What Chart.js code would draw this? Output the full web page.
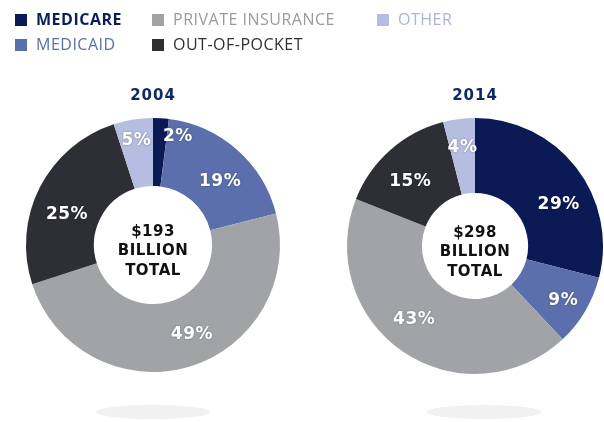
<!DOCTYPE html>
<html>
<head>
<meta charset="utf-8">
<script src="https://cdn.jsdelivr.net/npm/chart.js@4/dist/chart.umd.min.js"></script>
<style>
  html, body { margin: 0; padding: 0; background: #ffffff; }
  #wrap { position: relative; width: 604px; height: 422px; overflow: hidden; }
  canvas { position: absolute; left: 0; top: 0; }
  .shadow { position: absolute; height: 14px; border-radius: 50%; background: #f1f1f1; }
  #legend { position: absolute; left: 15px; top: 10px; font-family: "Open Sans", sans-serif; font-size: 16px; }
  .li { position: absolute; white-space: nowrap; line-height: 18px; letter-spacing: 0.5px; }
  .sw { display: inline-block; width: 12px; height: 12px; vertical-align: -1px; margin-right: 9px; }
</style>
</head>
<body>
<div id="wrap">
  <div class="shadow" style="left:96px; top:405px; width:114px;"></div>
  <div class="shadow" style="left:427px; top:405px; width:114px;"></div>
  <canvas id="c1" width="604" height="422"></canvas>
  <canvas id="c2" width="604" height="422"></canvas>
  <div id="legend"></div>
</div>
<script>
// ---- data ----
const categories = ["MEDICARE", "MEDICAID", "PRIVATE INSURANCE", "OUT-OF-POCKET", "OTHER"];
const years = ["2004", "2014"];
const values2004 = [2, 19, 49, 25, 5];
const values2014 = [29, 9, 43, 15, 4];
const totals = ["$193", "$298"];
const centerWords = ["BILLION", "TOTAL"];

// ---- styles ----
const sliceColors = ["#0b1a55", "#5a6fab", "#a2a3a6", "#2e2f34", "#b5bde0"];
const legendTextColors = ["#0b1e5b", "#5a70a8", "#9a9a9c", "#2e2f34", "#aab4dc"];
const legendBold = [true, false, false, false, false];
const legendPos = [[0, 0], [0, 25], [137, 0], [137, 25], [362, 0]];

// HTML legend
const lg = document.getElementById('legend');
categories.forEach((c, i) => {
  const d = document.createElement('div');
  d.className = 'li';
  d.style.left = legendPos[i][0] + 'px';
  d.style.top = legendPos[i][1] + 'px';
  d.style.color = legendTextColors[i];
  d.style.fontWeight = legendBold[i] ? '700' : '400';
  d.innerHTML = '<span class="sw" style="background:' + sliceColors[i] + '"></span>' + c;
  lg.appendChild(d);
});

const donutDecor = {
  id: 'donutDecor',
  afterDatasetsDraw(chart, args, opts) {
    const ctx = chart.ctx;
    const meta = chart.getDatasetMeta(0);
    const ds = chart.data.datasets[0];
    const total = ds.data.reduce((a, b) => a + b, 0);
    let cx = 0, cy = 0, outer = 0;
    meta.data.forEach((arc, i) => {
      const p = arc.getProps(['x', 'y', 'startAngle', 'endAngle', 'innerRadius', 'outerRadius'], true);
      cx = p.x; cy = p.y; outer = p.outerRadius;
      let a = (p.startAngle + p.endAngle) / 2;
      let r = (p.innerRadius + p.outerRadius) / 2 + 5;
      const n = (opts.nudges || [])[i];
      if (n) { a += n[0]; r += n[1]; }
      const x = p.x + Math.cos(a) * r;
      const y = p.y + Math.sin(a) * r;
      ctx.save();
      ctx.font = 'bold 17px "DejaVu Sans", sans-serif';
      ctx.letterSpacing = '0.5px';
      ctx.textAlign = 'center';
      ctx.textBaseline = 'middle';
      ctx.shadowColor = 'rgba(0,0,0,0.35)';
      ctx.shadowBlur = 2;
      ctx.fillStyle = '#ffffff';
      ctx.fillText(Math.round(ds.data[i] / total * 100) + '%', x, y);
      ctx.restore();
    });
    // title
    ctx.save();
    ctx.font = 'bold 15px "DejaVu Sans", sans-serif';
    ctx.letterSpacing = '1px';
    ctx.textAlign = 'center';
    ctx.textBaseline = 'middle';
    ctx.fillStyle = '#0d2a66';
    ctx.fillText(opts.title, cx, cy - outer - 22);
    // center text
    ctx.font = 'bold 15px "DejaVu Sans", sans-serif';
    ctx.letterSpacing = '0.5px';
    ctx.fillStyle = '#111111';
    ctx.fillText(opts.total, cx, cy - 13);
    ctx.fillText(centerWords[0], cx, cy + 6);
    ctx.fillText(centerWords[1], cx, cy + 26);
    ctx.restore();
  }
};

function makeChart(id, values, title, total, cutout, padding, nudges) {
  return new Chart(document.getElementById(id), {
    type: 'doughnut',
    data: {
      labels: categories,
      datasets: [{ data: values, backgroundColor: sliceColors, borderWidth: 0 }]
    },
    options: {
      responsive: false,
      animation: false,
      cutout: cutout,
      layout: { padding: padding },
      plugins: {
        legend: { display: false },
        tooltip: { enabled: false },
        donutDecor: { title: title, total: total, nudges: nudges }
      }
    },
    plugins: [donutDecor]
  });
}

// label nudges: [angle offset (rad), radius offset (px)] per slice
makeChart('c1', values2004, years[0], totals[0], '46.5%',
  { left: 26, right: 324, top: 118, bottom: 50 },
  [[0.164, 13], [0.094, -6], [-0.126, 0], [-0.136, -7], [0, 8]]);
makeChart('c2', values2014, years[1], totals[1], '41.5%',
  { left: 347, right: 1, top: 118, bottom: 48 },
  [[0.196, -2], [0.016, 8], [0.093, 0], [-0.063, -4], [0, 4]]);
</script>
</body>
</html>
